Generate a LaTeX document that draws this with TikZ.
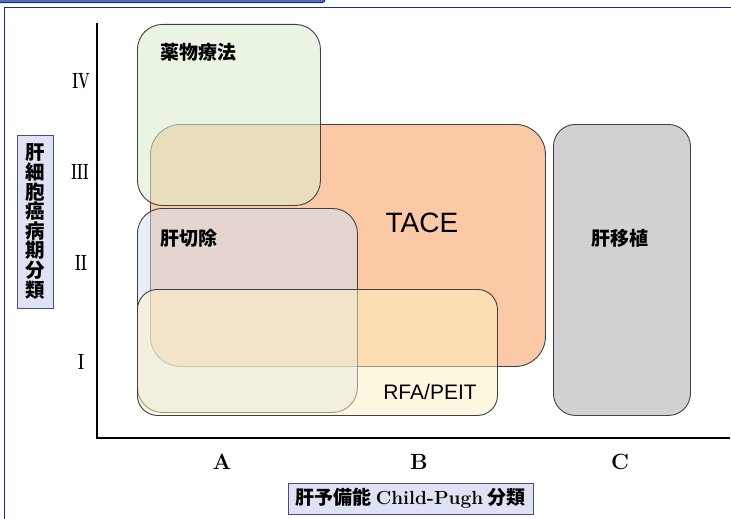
\documentclass[tikz,border=0pt]{standalone}
\usepackage{fontspec}
\newfontfamily\jp{Noto Sans CJK JP}
\newfontfamily\arial{Liberation Sans}
\definecolor{frameblue}{HTML}{1C2B8C}
\definecolor{barblue}{HTML}{4F73B5}
\definecolor{drugc}{HTML}{DCEDCF}
\definecolor{tacec}{HTML}{FBC9A6}
\definecolor{resecc}{HTML}{D3E0F4}
\definecolor{rfac}{HTML}{FFF1C3}
\definecolor{transc}{HTML}{D1D0D2}
\definecolor{labfill}{HTML}{DDE3F4}
\definecolor{labdraw}{HTML}{4A4F7A}
\begin{document}
\begin{tikzpicture}[x=1pt,y=-1pt,
  box/.style={draw=black!75, line width=0.9pt, inner sep=0pt, anchor=north west},
  boxtext/.style={font=\jp\bfseries\fontsize{19}{19}\selectfont, inner sep=0pt},
  roman/.style={font=\fontsize{22}{22}\selectfont\bfseries, inner sep=0pt},
  grade/.style={font=\fontsize{22}{22}\selectfont\bfseries, inner sep=0pt},
  axlabel/.style={draw=labdraw, fill=labfill, line width=0.8pt, inner sep=0pt},
  axisline/.style={draw=black, line width=1.5pt},
  frameline/.style={draw=frameblue, line width=1.5pt}]
\useasboundingbox (0,0) rectangle (731,519);
% top bar and frame
\draw[draw=frameblue, fill=barblue, line width=1pt, rounded corners=3pt] (-6,-8) rectangle (325,2.6);
\coordinate (fr) at (732,7.6);
\coordinate (ftl) at (4.6,7.6);
\coordinate (fb) at (4.6,520);
\draw[frameline] (fr) -- (ftl) -- (fb);
% axes
\coordinate (ytop) at (97,23);
\coordinate (orig) at (97,438);
\coordinate (xend) at (730,438);
\draw[axisline] (ytop) -- (orig) -- (xend);
% boxes
\node[box, fill=tacec, rounded corners=30pt, minimum width=395pt, minimum height=242pt] (tace) at (150,124) {};
\node[box, fill=drugc, fill opacity=0.6, rounded corners=25pt, minimum width=183pt, minimum height=181pt] (drug) at (137,24) {};
\node[box, fill=resecc, fill opacity=0.55, rounded corners=25pt, minimum width=220pt, minimum height=204pt] (resec) at (137,208) {};
\node[box, fill=rfac, fill opacity=0.5, rounded corners=20pt, minimum width=360pt, minimum height=126pt] (rfa) at (137,289) {};
\node[box, fill=transc, rounded corners=22pt, minimum width=137pt, minimum height=291pt] (trans) at (553,124) {};
% box labels
\node[boxtext] (drugt) at (198,52) {薬物療法};
\node[boxtext] (resect) at (189,238) {肝切除};
\node[boxtext] (transt) at (620,238) {肝移植};
\node[font=\arial\fontsize{28}{28}\selectfont, inner sep=0pt] (tacet) at (422,223) {TACE};
\node[font=\arial\fontsize{21}{21}\selectfont, inner sep=0pt] (rfat) at (430,392) {RFA/PEIT};
% stage numerals
\node[roman] (s4) at (81,81) {\scalebox{0.62}[1]{IV}};
\node[roman] (s3) at (80,172) {\scalebox{0.6}[1]{III}};
\node[roman] (s2) at (81,263) {\scalebox{0.62}[1]{II}};
\node[roman] (s1) at (81,362) {\scalebox{0.65}[1]{I}};
% grades
\node[grade] (ga) at (222,462) {A};
\node[grade] (gb) at (419,462) {B};
\node[grade] (gc) at (620,462) {C};
% axis labels
\node[axlabel, minimum width=36pt, minimum height=173pt, align=center,
  font=\jp\bfseries\fontsize{19.5}{19.6}\selectfont] (ylab) at (35,221.5)
  {肝\\細\\胞\\癌\\病\\期\\分\\類};
\node[axlabel, minimum width=245pt, minimum height=31pt,
  font=\jp\bfseries\fontsize{19}{19}\selectfont] (xlab) at (410.5,498.5)
  {肝予備能 {\rmfamily\bfseries Child-Pugh} 分類};
\end{tikzpicture}
\end{document}
